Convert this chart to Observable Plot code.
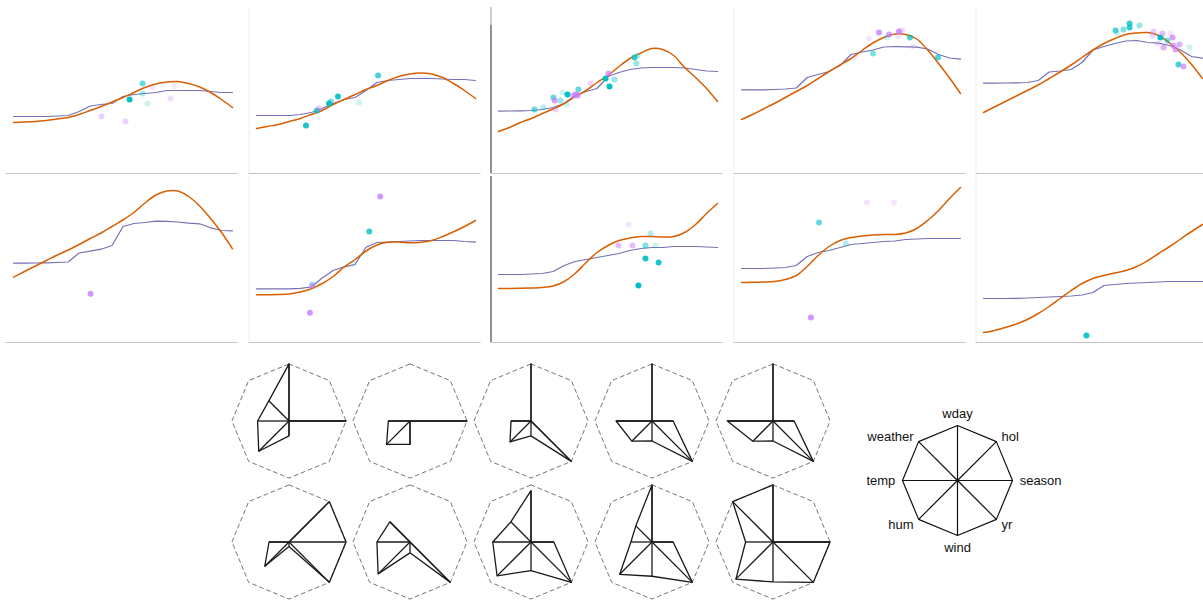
<!DOCTYPE html>
<html><head><meta charset="utf-8">
<script src="https://cdn.jsdelivr.net/npm/d3@7"></script>
<script src="https://cdn.jsdelivr.net/npm/@observablehq/plot@0.6"></script>
<style>
body{margin:0;background:#fff;}
#root{position:relative;width:1203px;height:600px;overflow:hidden;font-family:"Liberation Sans",Arial,sans-serif;}
#root > div{position:absolute;}
#root svg{max-width:none !important;}
</style></head><body><div id="root"></div>
<script>
// ---------- data: top panels (feature value 0..1 vs predicted count) ----------
const xGrid = [0,0.05,0.1,0.15,0.2,0.25,0.3,0.35,0.4,0.45,0.5,0.55,0.6,0.65,0.7,0.75,0.8,0.85,0.9,0.95,1];

const curve1 = [2550,2575,2600,2650,2725,2800,2950,3150,3350,3575,3800,4050,4300,4475,4575,4600,4500,4325,4050,3700,3300];
const step1  = [2850,2850,2850,2850,2875,2900,3100,3375,3450,3500,3850,3950,4000,4050,4150,4150,4150,4150,4100,4050,4050];
const curve2 = [2250,2350,2450,2600,2750,2950,3150,3450,3700,3950,4200,4400,4650,4850,4975,5025,4975,4800,4500,4150,3750];
const step2  = [2900,2900,2900,2900,2950,3050,3250,3500,3700,3800,4150,4550,4650,4700,4750,4750,4750,4725,4700,4700,4650];
const curve3 = [2100,2300,2550,2750,3000,3225,3500,3850,4150,4550,4900,5350,5750,6025,6250,6200,5900,5300,4800,4250,3600];
const step3  = [3115,3125,3135,3150,3200,3300,3500,3900,4100,4250,4850,5050,5200,5275,5300,5300,5300,5275,5200,5125,5100];
const curve4 = [2700,2950,3225,3500,3800,4100,4400,4750,5100,5425,5750,6150,6525,6800,6975,6950,6725,6175,5500,4775,4000];
const step4  = [4185,4185,4185,4200,4225,4275,4800,4950,5100,5400,5950,6075,6175,6325,6350,6335,6315,6225,5950,5775,5715];
const curve5 = [3050,3325,3600,3875,4150,4425,4750,5075,5425,5800,6175,6500,6750,6950,7025,7050,6900,6525,6050,5450,4750];
const step5  = [4515,4515,4525,4535,4550,4650,5075,5125,5200,5550,6175,6350,6500,6625,6650,6550,6515,6400,6175,5850,5765];
const curve6 = [3265,3550,3825,4100,4375,4625,4900,5200,5475,5800,6125,6500,6975,7375,7575,7575,7300,6825,6200,5500,4685];
const step6  = [3965,3965,3975,3985,4000,4025,4475,4565,4665,4850,5800,5950,6000,6065,6060,6025,5965,5935,5735,5600,5585];
const curve7 = [2385,2390,2400,2430,2525,2690,2950,3300,3775,4150,4575,4875,5010,5025,4985,5010,5100,5300,5535,5800,6100];
const step7  = [2685,2685,2685,2685,2710,2775,3225,3600,3785,3900,4765,5000,5025,5050,5075,5100,5100,5100,5100,5050,5015];
const curve8 = [2700,2700,2710,2725,2750,2825,3050,3450,4000,4500,4850,5100,5225,5300,5300,5275,5300,5500,5900,6450,6950];
const step8  = [3400,3400,3400,3425,3450,3550,3850,4050,4150,4250,4350,4450,4600,4700,4750,4750,4800,4800,4800,4775,4750];
const curve9 = [3000,3010,3025,3050,3150,3350,3800,4350,4800,5100,5250,5325,5375,5400,5400,5475,5700,6100,6600,7200,7750];
const step9  = [3700,3700,3700,3725,3750,3850,4300,4500,4600,4750,4900,4950,5000,5050,5075,5150,5175,5200,5200,5200,5200];
const curve10= [500,600,750,925,1150,1450,1800,2200,2600,2950,3200,3350,3475,3600,3800,4100,4450,4800,5175,5550,5900];
const step10 = [2200,2200,2200,2210,2225,2250,2275,2300,2325,2375,2500,2850,2900,2950,2975,3000,3025,3050,3050,3050,3050];

// dots: [feature value, count, group, weight]
const dots1 = [[0.589,4500,"over",0.6],[0.589,4000,"over",0.3],[0.530,3700,"over",1],[0.612,3500,"over",0.2],[0.635,4300,"under",0.2],[0.735,4350,"under",0.15],[0.717,3750,"under",0.25],[0.402,2850,"under",0.35],[0.511,2600,"under",0.35],[0.406,3400,"under",0.1]];
const dots2 = [[0.226,2400,"over",0.9],[0.276,3150,"over",0.8],[0.331,3500,"over",0.9],[0.372,3850,"over",0.9],[0.340,3600,"over",0.5],[0.468,3550,"over",0.2],[0.555,4900,"over",0.7],[0.285,3250,"under",0.4]];
const dots3 = [[0.164,3200,"over",0.6],[0.205,3300,"over",0.3],[0.251,3800,"over",0.6],[0.292,4050,"over",0.2],[0.315,3950,"over",1],[0.311,3450,"over",0.2],[0.365,4200,"over",0.6],[0.489,4750,"over",1],[0.530,4700,"over",0.4],[0.507,4350,"over",1],[0.621,5800,"over",0.8],[0.635,5900,"over",0.3],[0.630,5500,"over",0.4],[0.283,3650,"over",0.4],[0.256,3650,"under",0.7],[0.260,3200,"under",0.3],[0.352,3950,"under",0.8],[0.361,3900,"under",0.8],[0.420,4500,"under",0.3],[0.502,5000,"under",0.7],[0.342,3900,"under",0.6]];
const dots4 = [[0.628,7050,"under",0.8],[0.582,6750,"under",0.2],[0.674,6950,"under",0.7],[0.719,7100,"under",0.8],[0.733,7150,"under",0.3],[0.715,6850,"under",0.2],[0.783,6350,"under",0.2],[0.518,5800,"under",0.15],[0.769,6800,"over",0.7],[0.664,6800,"over",0.2],[0.600,6000,"over",0.5],[0.897,5800,"over",0.7]];
const dots5 = [[0.603,7150,"over",0.7],[0.639,7200,"over",0.5],[0.667,7500,"over",0.8],[0.667,7300,"over",0.8],[0.712,7400,"over",0.4],[0.612,7000,"over",0.2],[0.808,6800,"over",1],[0.840,6650,"over",0.5],[0.890,5450,"over",0.7],[0.941,6300,"over",0.2],[0.776,7100,"under",0.4],[0.817,7000,"under",0.5],[0.863,6800,"under",0.7],[0.822,6300,"under",0.6],[0.868,6400,"under",0.6],[0.895,6450,"under",0.6],[0.877,6200,"under",0.7],[0.913,5350,"under",0.7],[0.854,7000,"under",0.2],[0.795,6500,"under",0.2],[0.772,6900,"under",0.3]];
const dots6 = [[0.352,2435,"under",0.8]];
const dots7 = [[0.565,7300,"under",0.8],[0.515,5550,"over",0.8],[0.244,1485,"under",0.8],[0.253,2850,"under",0.6],[0.257,2935,"over",0.2],[0.439,3935,"over",0.15]];
const dots8 = [[0.594,5900,"under",0.2],[0.548,4850,"under",0.5],[0.612,4850,"under",0.5],[0.671,4850,"over",0.5],[0.694,5450,"over",0.3],[0.717,4850,"over",0.2],[0.671,4200,"over",0.9],[0.731,4000,"over",0.9],[0.639,2850,"over",1]];
const dots9 = [[0.317,1250,"under",0.8],[0.354,6000,"over",0.6],[0.477,4950,"over",0.3],[0.573,7000,"under",0.2],[0.696,7000,"under",0.2]];
const dots10= [[0.470,350,"over",0.9]];

// ---------- data: star glyphs ----------
const starAxes = ["wday","hol","season","yr","wind","hum","temp","weather"];
const star1  = [1,0,1,0,0.26,0.75,0.55,0.5];
const star2  = [0,0,1,0,0.41,0.58,0.38,0];
const star3  = [1,0,0,1,0.26,0.52,0.35,0];
const star4  = [1,0,0.37,1,0.35,0.5,0.63,0];
const star5  = [1,0,0.37,1,0.35,0.5,0.8,0];
const star6  = [0,1,1,1,0.08,0.6,0.35,0];
const star7  = [0,0,0,1,0.19,0.79,0.58,0.5];
const star8  = [0.9,0,0.4,1,0.5,0.84,0.67,0.5];
const star9  = [1,0,0.37,1,0.6,0.8,0.37,0.4];
const star10 = [1,0,1,1,0.7,0.92,0.48,1];

// ---------- build ----------
const curves = [curve1,curve2,curve3,curve4,curve5,curve6,curve7,curve8,curve9,curve10];
const steps  = [step1,step2,step3,step4,step5,step6,step7,step8,step9,step10];
const dotsets= [dots1,dots2,dots3,dots4,dots5,dots6,dots7,dots8,dots9,dots10];
const stars  = [star1,star2,star3,star4,star5,star6,star7,star8,star9,star10];

const root = document.getElementById("root");
function place(node, left, top, w, h){
  const d = document.createElement("div");
  d.style.left = left + "px"; d.style.top = top + "px";
  d.style.width = w + "px"; d.style.height = h + "px";
  d.appendChild(node); root.appendChild(d);
}

const X_DOMAIN = [-0.0342, 1.0251];
const Y_DOMAIN = [0, 8300];
const PW = 242.5;

function topPanel(i){
  const col = i % 5, row = Math.floor(i / 5);
  const curve = xGrid.map((x, j) => ({x, y: curves[i][j]}));
  const step = xGrid.map((x, j) => ({x, y: steps[i][j]}));
  const dots = dotsets[i].map(([x, y, g, w]) => ({x, y, g, w}));
  const marks = [];
  if (col === 2) {
    if (row === 0) {
      marks.push(Plot.ruleX([X_DOMAIN[0]], {y1: 7400, y2: 8300, stroke: "#999"}));
      marks.push(Plot.ruleX([X_DOMAIN[0]], {y1: 0, y2: 7400, stroke: "#555", strokeWidth: 1.3}));
    } else {
      marks.push(Plot.ruleX([X_DOMAIN[0]], {stroke: "#555", strokeWidth: 1.3}));
    }
  } else if (col !== 0) {
    marks.push(Plot.ruleX([X_DOMAIN[0]], {stroke: "#eee"}));
  }
  marks.push(Plot.ruleY([0], {stroke: "#c4c4c4"}));
  marks.push(Plot.line(step, {x: "x", y: "y", stroke: "#7570b3", strokeWidth: 1.2}));
  marks.push(Plot.line(curve, {x: "x", y: "y", stroke: "#d95f02", strokeWidth: 1.5, curve: "catmull-rom"}));
  marks.push(Plot.dot(dots, {x: "x", y: "y", r: 3, fill: "g", fillOpacity: "w", stroke: null}));
  const h = row ? 173 : 175;
  const svg = Plot.plot({
    width: PW, height: h,
    marginLeft: 5.5, marginRight: 5, marginTop: row ? 5 : 7, marginBottom: 2,
    x: {domain: X_DOMAIN, axis: null},
    y: {domain: Y_DOMAIN, axis: null},
    color: {domain: ["over", "under"], range: ["#00BFC4", "#C77CFF"]},
    opacity: {domain: [0, 1], range: [0, 1]},
    marks
  });
  place(svg, col * PW, row ? 171 : 0, PW, h);
}
for (let i = 0; i < 10; i++) topPanel(i);

const ang = k => k * Math.PI / 4;
function glyph(vals, cx, cy){
  const pts = vals.map((v, k) => ({axis: starAxes[k], v, a: ang(k)}));
  const ring = starAxes.map((a, k) => ({axis: a, v: 1, a: ang(k)}));
  const px = d => Math.sin(d.a) * d.v, py = d => Math.cos(d.a) * d.v;
  const svg = Plot.plot({
    width: 121, height: 121, margin: 0,
    x: {domain: [-1.06, 1.06], axis: null},
    y: {domain: [-1.06, 1.06], axis: null},
    marks: [
      Plot.line(ring, {x: px, y: py, curve: "linear-closed", stroke: "#777", strokeWidth: 1, strokeDasharray: "4,3.5"}),
      Plot.link(pts, {x1: () => 0, y1: () => 0, x2: px, y2: py, stroke: "#1a1a1a", strokeWidth: 1.3}),
      Plot.line(pts, {x: px, y: py, curve: "linear-closed", stroke: "#1a1a1a", strokeWidth: 1.3})
    ]
  });
  place(svg, cx - 60.5, cy - 60.5, 121, 121);
}
const glyphCX = [288.3, 409.3, 530.3, 651.3, 772.3];
const glyphCY = [420, 541];
stars.forEach((s, i) => glyph(s, glyphCX[i % 5], glyphCY[Math.floor(i / 5)]));

// legend star
(function(){
  const full = starAxes.map((a, k) => ({axis: a, v: 1, a: ang(k)}));
  const px = d => Math.sin(d.a) * d.v, py = d => Math.cos(d.a) * d.v;
  const lab = starAxes.map((a, k) => ({axis: a, v: 1.13, a: ang(k)}));
  const anchorOf = k => (k === 0 || k === 4) ? "middle" : (k < 4 ? "start" : "end");
  const lineOf = k => k === 0 ? "bottom" : (k === 4 ? "top" : "middle");
  const textMarks = lab.map((d, k) => Plot.text([d], {
    x: px, y: py, text: "axis", textAnchor: anchorOf(k), lineAnchor: lineOf(k),
    fontSize: 13, fill: "#111", fontFamily: "Liberation Sans, Arial, sans-serif"
  }));
  const svg = Plot.plot({
    width: 260, height: 170, margin: 0,
    x: {domain: [-130 / 55, 130 / 55], axis: null},
    y: {domain: [-85 / 55, 85 / 55], axis: null},
    marks: [
      Plot.link(full, {x1: () => 0, y1: () => 0, x2: px, y2: py, stroke: "#111", strokeWidth: 1.2}),
      Plot.line(full, {x: px, y: py, curve: "linear-closed", stroke: "#111", strokeWidth: 1.2}),
      ...textMarks
    ]
  });
  place(svg, 956.7 - 130, 480 - 85, 260, 170);
})();
</script></body></html>
